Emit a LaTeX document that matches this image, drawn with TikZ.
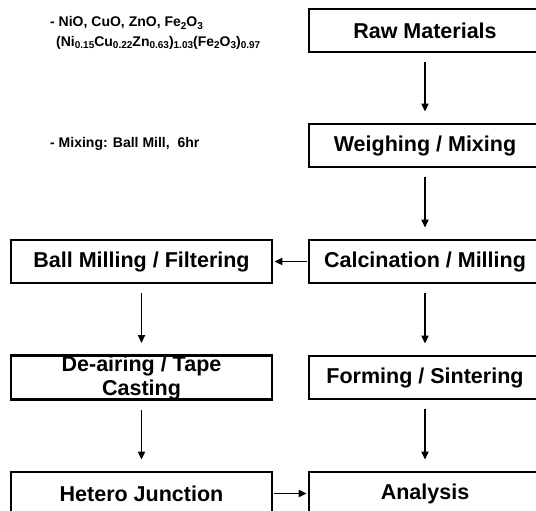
\documentclass[tikz,border=0pt]{standalone}
\usepackage{fontspec}
\setmainfont{Liberation Sans}
\usetikzlibrary{arrows.meta}
\newcommand\sbx[1]{\raisebox{-0.3ex}{\fontsize{10}{10}\selectfont #1}}
\begin{document}
\begin{tikzpicture}[x=1pt,y=-1pt,
  box/.style={draw,line width=2.8pt,minimum height=43pt,inner sep=0pt,
    font=\fontsize{21.5}{24}\selectfont\bfseries,align=center},
  rbox/.style={box,minimum width=232pt},
  lbox/.style={box,minimum width=261pt},
  tip/.style={-{Triangle[length=8pt,width=7pt]}},
  arr/.style={line width=1.9pt,tip,shorten <=9pt,shorten >=11pt},
  harr/.style={line width=1.9pt,tip,shorten <=1pt,shorten >=1pt},
  note/.style={anchor=west,font=\fontsize{14}{17}\selectfont\bfseries,inner sep=0pt,align=left}]
\useasboundingbox (0,0) rectangle (536,511);
\clip (0,0) rectangle (536,511);
\node[rbox] (raw) at (425,30.5) {Raw Materials};
\node[rbox] (weigh) at (425,145.5) {Weighing / Mixing};
\node[rbox] (calc) at (425,261.5) {Calcination / Milling};
\node[rbox] (form) at (425,377.5) {Forming / Sintering};
\node[rbox] (ana) at (425,493.5) {Analysis};
\node[lbox] (ball) at (141.5,261.5) {Ball Milling / Filtering};
\node[lbox] (deair) at (141.5,377.5) {De-airing / Tape\\Casting};
\node[lbox] (het) at (141.5,493.5) {Hetero Junction};
\node[note] (n1) at (50,23) {- NiO, CuO, ZnO, Fe\sbx{2}O\sbx{3}};
\node[note] (n2) at (56,43) {(Ni\sbx{0.15}Cu\sbx{0.22}Zn\sbx{0.63})\sbx{1.03}(Fe\sbx{2}O\sbx{3})\sbx{0.97}};
\node[note] (n3) at (50,144) {- Mixing: Ball Mill,\ \ 6hr};
\draw[arr] (raw.south) -- (weigh.north);
\draw[arr] (weigh.south) -- (calc.north);
\draw[arr] (calc.south) -- (form.north);
\draw[arr] (form.south) -- (ana.north);
\draw[arr] (ball.south) -- (deair.north);
\draw[arr] (deair.south) -- (het.north);
\draw[harr] (calc.west) -- (ball.east);
\draw[harr] (het.east) -- (ana.west);
\end{tikzpicture}
\end{document}
